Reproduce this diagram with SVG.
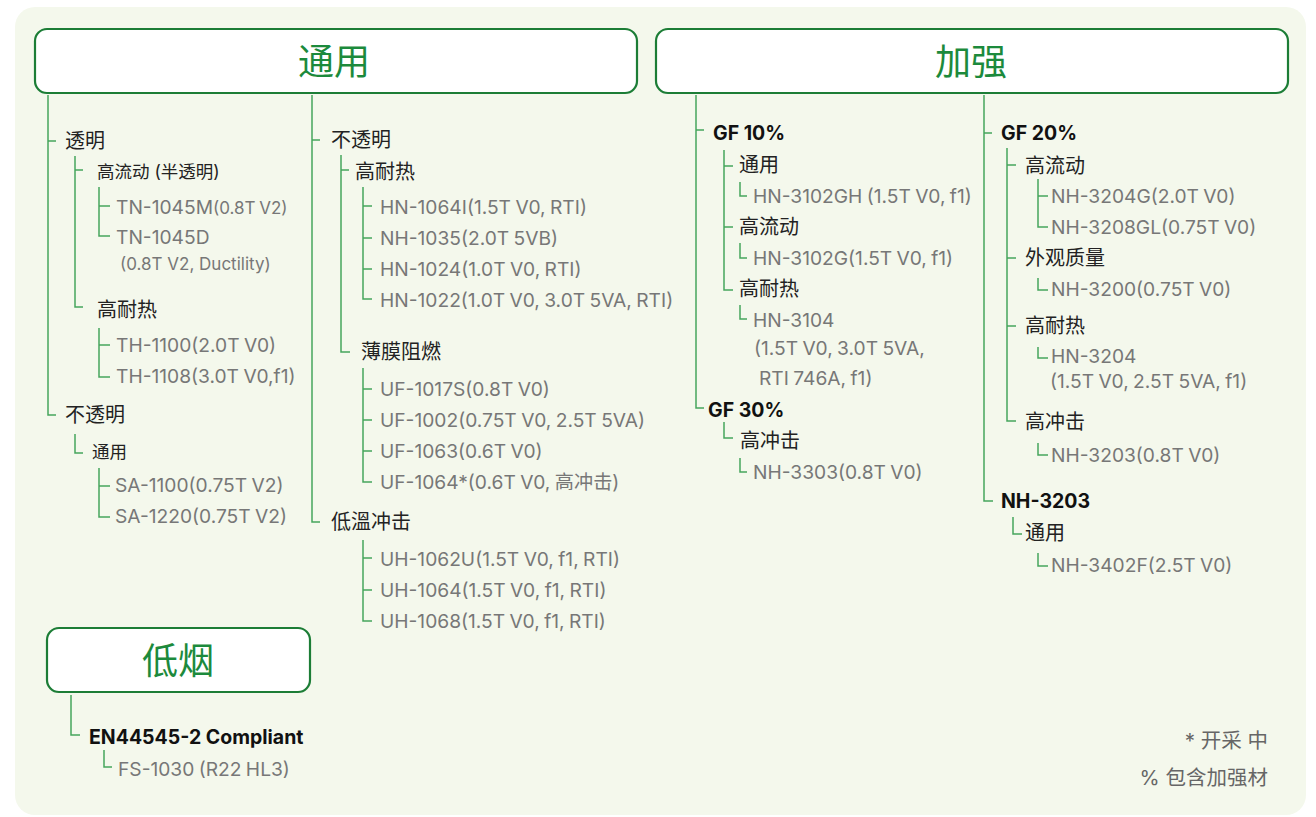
<svg xmlns="http://www.w3.org/2000/svg" width="1316" height="817" viewBox="0 0 1316 817">
<style>
.hdr{fill:#fff;stroke:#1c7d36;stroke-width:2.2}
.ht{font-family:"Noto Sans CJK SC",sans-serif;font-size:36px;fill:#1c8a3c;text-anchor:middle}
.c{fill:none;stroke:#45a55c;stroke-width:1.5}
.l{font-family:"Inter","Noto Sans CJK SC",sans-serif;font-size:20px;fill:#222}
.s{font-family:"Inter","Noto Sans CJK SC",sans-serif;font-size:17.5px;fill:#222}
.b{font-family:"Inter","Noto Sans CJK SC",sans-serif;font-size:19.5px;font-weight:700;fill:#111}
.g{font-family:"Inter","Noto Sans CJK SC",sans-serif;font-size:19.2px;fill:#777;word-spacing:-1px}
.gs{font-family:"Inter","Noto Sans CJK SC",sans-serif;font-size:17px;fill:#777}
.n{font-family:"Inter","Noto Sans CJK SC",sans-serif;font-size:20.5px;fill:#666;text-anchor:end}
</style>
<rect x="0" y="0" width="1316" height="817" fill="#fff"/>
<rect x="15" y="7" width="1291" height="808" rx="20" fill="#f4f8ec"/>
<g id="connectors">
<path class="c" d="M48 95V415H56M48 141H56"/>
<path class="c" d="M75 156V307H83M75 170H83"/>
<path class="c" d="M99 187V236H110M99 206H110"/>
<path class="c" d="M99 328V377H110M99 345H110"/>
<path class="c" d="M75 434V453H83"/>
<path class="c" d="M99 468V517H110M99 486H110"/>
<path class="c" d="M312 95V522H320M312 140H320"/>
<path class="c" d="M341 155V352H350M341 170H349"/>
<path class="c" d="M363 187V299H372M363 206H372M363 238H372M363 269H372"/>
<path class="c" d="M363 368V482H372M363 389H372M363 420H372M363 451H372"/>
<path class="c" d="M363 540V621H372M363 558H372M363 590H372"/>
<path class="c" d="M696 95V408H704M696 130H704"/>
<path class="c" d="M724 150V290H733M724 166H733M724 227H733"/>
<path class="c" d="M740 182V196H747M740 243V258H747M740 305V319H747"/>
<path class="c" d="M724 422V438H733M740 458V472H747"/>
<path class="c" d="M984 95V501H993M984 133H992"/>
<path class="c" d="M1007 148V421H1016M1007 165H1016M1007 258H1016M1007 326H1016"/>
<path class="c" d="M1038 179V227H1048M1038 196H1048"/>
<path class="c" d="M1038 278V290H1048M1038 347V358H1048M1038 443V455H1048"/>
<path class="c" d="M1013 517V534H1022M1038 553V566H1048"/>
<path class="c" d="M71 695V735H80M104 750V767H112"/>
</g>
<g id="hdr-general"><rect class="hdr" x="35" y="29" width="602" height="64" rx="12"/><text class="ht" x="334" y="75">通用</text></g>
<g id="hdr-reinforced"><rect class="hdr" x="656" y="29" width="632" height="64" rx="12"/><text class="ht" x="971" y="75">加强</text></g>
<g id="hdr-lowsmoke"><rect class="hdr" x="47" y="628" width="263" height="64" rx="12"/><text class="ht" x="178" y="674">低烟</text></g>
<g id="col1">
<text class="l" x="65" y="148">透明</text>
<text class="s" x="97" y="178">高流动 (半透明)</text>
<text class="g" x="116" y="214">TN-1045M<tspan class="gs">(0.8T V2)</tspan></text>
<text class="g" x="116" y="244">TN-1045D</text>
<text class="gs" x="120" y="270">(0.8T V2, Ductility)</text>
<text class="l" x="97" y="317">高耐热</text>
<text class="g" x="116" y="352">TH-1100(2.0T V0)</text>
<text class="g" x="116" y="383">TH-1108(3.0T V0,f1)</text>
<text class="l" x="65" y="422">不透明</text>
<text class="s" x="92" y="458">通用</text>
<text class="g" x="115" y="492">SA-1100(0.75T V2)</text>
<text class="g" x="115" y="523">SA-1220(0.75T V2)</text>
</g>
<g id="col2">
<text class="l" x="331" y="147">不透明</text>
<text class="l" x="355" y="179">高耐热</text>
<text class="g" x="380" y="214">HN-1064I(1.5T V0, RTI)</text>
<text class="g" x="380" y="245">NH-1035(2.0T 5VB)</text>
<text class="g" x="380" y="276">HN-1024(1.0T V0, RTI)</text>
<text class="g" x="380" y="307">HN-1022(1.0T V0, 3.0T 5VA, RTI)</text>
<text class="l" x="361" y="359">薄膜阻燃</text>
<text class="g" x="380" y="396">UF-1017S(0.8T V0)</text>
<text class="g" x="380" y="427">UF-1002(0.75T V0, 2.5T 5VA)</text>
<text class="g" x="380" y="458">UF-1063(0.6T V0)</text>
<text class="g" x="380" y="489">UF-1064*(0.6T V0, 高冲击)</text>
<text class="l" x="331" y="529">低溫冲击</text>
<text class="g" x="380" y="566">UH-1062U(1.5T V0, f1, RTI)</text>
<text class="g" x="380" y="597">UH-1064(1.5T V0, f1, RTI)</text>
<text class="g" x="380" y="628">UH-1068(1.5T V0, f1, RTI)</text>
</g>
<g id="col3">
<text class="b" x="713" y="140">GF 10%</text>
<text class="l" x="739" y="172">通用</text>
<text class="g" x="753" y="203">HN-3102GH (1.5T V0, f1)</text>
<text class="l" x="739" y="234">高流动</text>
<text class="g" x="753" y="265">HN-3102G(1.5T V0, f1)</text>
<text class="l" x="739" y="296">高耐热</text>
<text class="g" x="753" y="327">HN-3104</text>
<text class="g" x="754" y="355">(1.5T V0, 3.0T 5VA,</text>
<text class="g" x="759" y="385">RTI 746A, f1)</text>
<text class="b" x="708" y="417">GF 30%</text>
<text class="l" x="740" y="448">高冲击</text>
<text class="g" x="753" y="479">NH-3303(0.8T V0)</text>
</g>
<g id="col4">
<text class="b" x="1001" y="140">GF 20%</text>
<text class="l" x="1025" y="173">高流动</text>
<text class="g" x="1051" y="203">NH-3204G(2.0T V0)</text>
<text class="g" x="1051" y="234">NH-3208GL(0.75T V0)</text>
<text class="l" x="1025" y="265">外观质量</text>
<text class="g" x="1051" y="296">NH-3200(0.75T V0)</text>
<text class="l" x="1025" y="333">高耐热</text>
<text class="g" x="1051" y="363">HN-3204</text>
<text class="g" x="1050" y="388">(1.5T V0, 2.5T 5VA, f1)</text>
<text class="l" x="1025" y="429">高冲击</text>
<text class="g" x="1051" y="462">NH-3203(0.8T V0)</text>
<text class="b" x="1001" y="508">NH-3203</text>
<text class="l" x="1025" y="540">通用</text>
<text class="g" x="1051" y="572">NH-3402F(2.5T V0)</text>
</g>
<g id="lowsmoke">
<text class="b" x="89" y="744">EN44545-2 Compliant</text>
<text class="g" x="118" y="776">FS-1030 (R22 HL3)</text>
</g>
<g id="notes">
<text class="n" x="1268" y="748">* 开采 中</text>
<text class="n" x="1268" y="785">% 包含加强材</text>
</g>
</svg>
